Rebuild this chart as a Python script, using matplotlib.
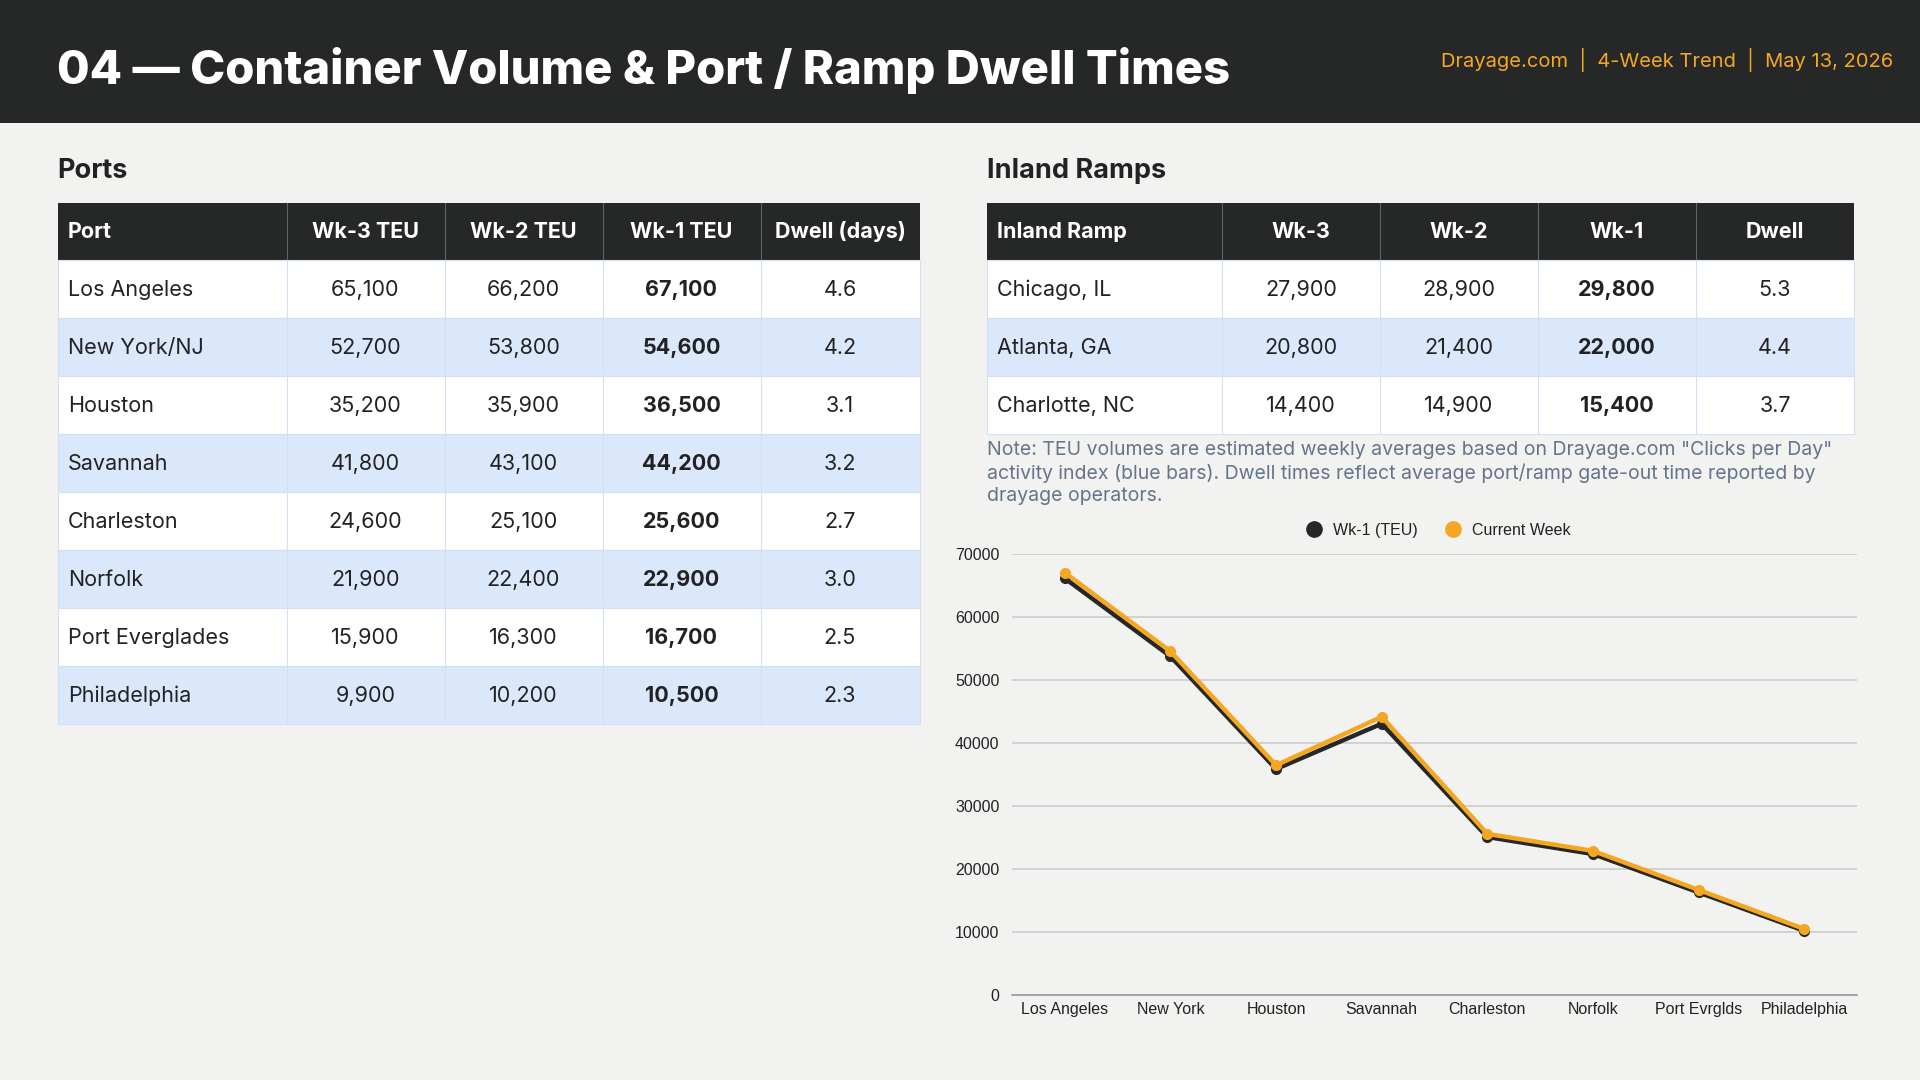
import matplotlib
matplotlib.use("Agg")
import matplotlib.pyplot as plt
from matplotlib.patches import Rectangle
from matplotlib.lines import Line2D

# ---------------- data ----------------
title = "04 — Container Volume & Port / Ramp Dwell Times"
subtitle = "Drayage.com  |  4-Week Trend  |  May 13, 2026"

port_cols = ["Port", "Wk-3 TEU", "Wk-2 TEU", "Wk-1 TEU", "Dwell (days)"]
ports = ["Los Angeles", "New York/NJ", "Houston", "Savannah", "Charleston",
         "Norfolk", "Port Everglades", "Philadelphia"]
port_wk3 = [65100, 52700, 35200, 41800, 24600, 21900, 15900, 9900]
port_wk2 = [66200, 53800, 35900, 43100, 25100, 22400, 16300, 10200]
port_wk1 = [67100, 54600, 36500, 44200, 25600, 22900, 16700, 10500]
port_dwell = [4.6, 4.2, 3.1, 3.2, 2.7, 3.0, 2.5, 2.3]

ramp_cols = ["Inland Ramp", "Wk-3", "Wk-2", "Wk-1", "Dwell"]
ramps = ["Chicago, IL", "Atlanta, GA", "Charlotte, NC"]
ramp_wk3 = [27900, 20800, 14400]
ramp_wk2 = [28900, 21400, 14900]
ramp_wk1 = [29800, 22000, 15400]
ramp_dwell = [5.3, 4.4, 3.7]

chart_labels = ["Los Angeles", "New York", "Houston", "Savannah", "Charleston",
                "Norfolk", "Port Evrglds", "Philadelphia"]
series_prev = port_wk2      # "Wk-1 (TEU)" line
series_curr = port_wk1      # "Current Week" line
series_names = ["Wk-1 (TEU)", "Current Week"]

note = ('Note: TEU volumes are estimated weekly averages based on Drayage.com "Clicks per Day"\n'
        'activity index (blue bars). Dwell times reflect average port/ramp gate-out time reported by\n'
        'drayage operators.')

# ---------------- style ----------------
BG = "#F2F2F0"
DARK = "#262828"
ORANGE = "#F5A623"
STRIPE = "#DBE8FC"
CELLLINE = "#D3E0F3"
HDRLINE = "#5C636B"
TXT = "#222222"
NOTE = "#64748B"
FONT = ["Inter", "DejaVu Sans"]
CHARTFONT = ["Liberation Sans", "DejaVu Sans"]

W, H = 1920, 1080
fig = plt.figure(figsize=(19.2, 10.8), dpi=100, facecolor=BG)

# full-figure canvas in pixel coordinates
cv = fig.add_axes([0, 0, 1, 1])
cv.set_xlim(0, W)
cv.set_ylim(H, 0)
cv.axis("off")
cv.set_facecolor(BG)

# header band
cv.add_patch(Rectangle((0, 0), W, 122.5, facecolor=DARK, edgecolor="none"))
cv.text(57, 71, title, color="white", fontsize=34, fontweight="heavy",
        family=FONT, va="center", ha="left")
cv.text(1893, 60, subtitle, color=ORANGE, fontsize=14.5, family=FONT,
        va="center", ha="right")

# section titles
cv.text(57, 171, "Ports", color=TXT, fontsize=19.5, fontweight="bold",
        family=FONT, va="center", ha="left")
cv.text(987, 171, "Inland Ramps", color=TXT, fontsize=19.5, fontweight="bold",
        family=FONT, va="center", ha="left")


def fmt(v):
    return f"{v:,}"


def draw_table(x_edges, top, hdr_h, row_h, cols, names, c1, c2, c3, c4):
    # header
    x0, x1 = x_edges[0], x_edges[-1]
    cv.add_patch(Rectangle((x0, top), x1 - x0, hdr_h, facecolor=DARK,
                           edgecolor="none"))
    for j, c in enumerate(cols):
        if j > 0:
            cv.plot([x_edges[j], x_edges[j]], [top, top + hdr_h], color=HDRLINE, lw=0.8)
        if j == 0:
            cv.text(x_edges[0] + 10, top + hdr_h / 2 + 1, c, color="white", fontsize=15.5,
                    fontweight="bold", family=FONT, va="center", ha="left")
        else:
            cv.text((x_edges[j] + x_edges[j + 1]) / 2, top + hdr_h / 2 + 1, c, color="white",
                    fontsize=15.5, fontweight="bold", family=FONT, va="center", ha="center")
    # body
    for i, name in enumerate(names):
        y = top + hdr_h + i * row_h
        fc = "white" if i % 2 == 0 else STRIPE
        cv.add_patch(Rectangle((x0, y), x1 - x0, row_h, facecolor=fc,
                               edgecolor=CELLLINE, lw=0.8))
        for j in range(1, len(cols)):
            cv.plot([x_edges[j], x_edges[j]], [y, y + row_h], color=CELLLINE, lw=0.8)
        yc = y + row_h / 2 + 1
        cv.text(x_edges[0] + 10, yc, name, color=TXT, fontsize=15.5, family=FONT,
                va="center", ha="left")
        vals = [fmt(c1[i]), fmt(c2[i]), fmt(c3[i]), f"{c4[i]:.1f}"]
        for k, v in enumerate(vals):
            j = k + 1
            cv.text((x_edges[j] + x_edges[j + 1]) / 2, yc, v, color=TXT, fontsize=15.5,
                    family=FONT, va="center", ha="center",
                    fontweight="bold" if k == 2 else "normal")


port_edges = [58, 286.5, 444.5, 602.5, 760.5, 919.5]
ramp_edges = [987, 1222, 1380, 1538, 1696, 1854]
draw_table(port_edges, 202.5, 57, 58.0, port_cols, ports,
           port_wk3, port_wk2, port_wk1, port_dwell)
draw_table(ramp_edges, 202.5, 57, 58.0, ramp_cols, ramps,
           ramp_wk3, ramp_wk2, ramp_wk1, ramp_dwell)

# note
cv.text(987, 473, note, color=NOTE, fontsize=14, family=FONT, va="center",
        ha="left", linespacing=1.3)

# ---------------- line chart ----------------
ax = fig.add_axes([1012 / W, 1 - 995 / H, (1857 - 1012) / W, (995 - 554.4) / H])
ax.set_facecolor(BG)
x = list(range(len(chart_labels)))
ax.plot(x, series_prev, color=DARK, lw=3.2, marker="o", ms=7, zorder=3)
ax.plot(x, series_curr, color=ORANGE, lw=3.2, marker="o", ms=7, zorder=4)
ax.set_xlim(-0.5, len(chart_labels) - 0.5)
ax.set_ylim(0, 70000)
ax.set_yticks(range(0, 70001, 10000))
ax.set_yticklabels([str(v) for v in range(0, 70001, 10000)])
ax.set_xticks(x)
ax.set_xticklabels(chart_labels)
ax.grid(axis="y", color="#CCCCCC", lw=1.2)
ax.set_axisbelow(True)
for s in ["top", "right", "left"]:
    ax.spines[s].set_visible(False)
ax.spines["bottom"].set_color("#999999")
ax.spines["bottom"].set_linewidth(1.2)
ax.tick_params(length=0, labelsize=11.5, labelcolor="#222222")
ax.tick_params(axis="y", pad=9)
ax.tick_params(axis="x", pad=5)
for lbl in ax.get_xticklabels() + ax.get_yticklabels():
    lbl.set_family(CHARTFONT)

handles = [Line2D([], [], ls="none", marker="o", ms=11, color=DARK),
           Line2D([], [], ls="none", marker="o", ms=11, color=ORANGE)]
leg = ax.legend(handles, series_names, loc="lower center", bbox_to_anchor=(0.5, 1.005),
                ncol=2, frameon=False, handletextpad=0.2, columnspacing=1.2,
                prop={"family": CHARTFONT, "size": 11.5})
for t in leg.get_texts():
    t.set_color("#222222")

fig.savefig("out.png", dpi=100, facecolor=BG)
